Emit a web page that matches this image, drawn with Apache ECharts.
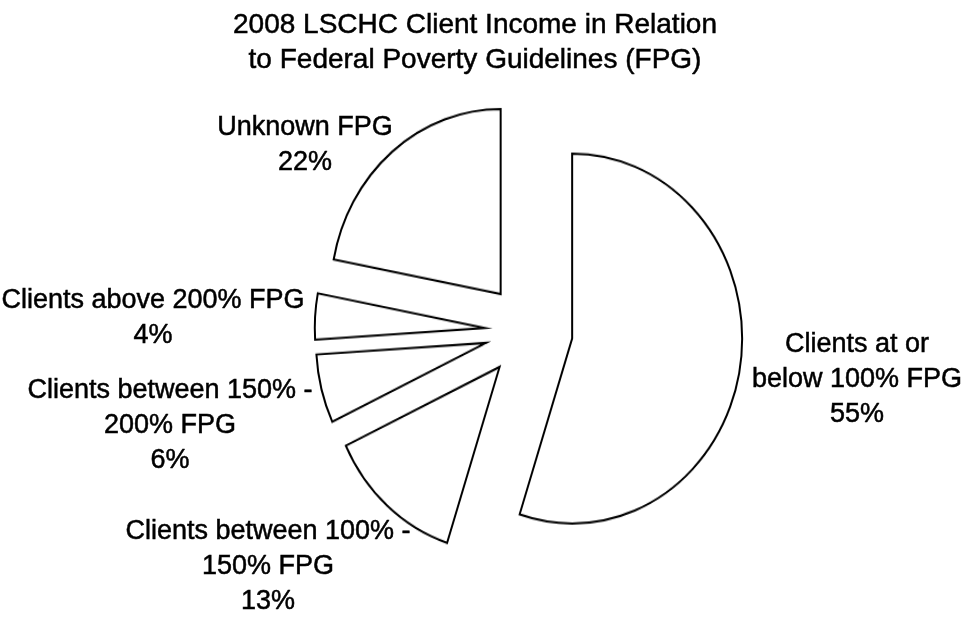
<!DOCTYPE html>
<html>
<head>
<meta charset="utf-8">
<script src="https://cdn.jsdelivr.net/npm/echarts@6/dist/echarts.min.js"></script>
<style>
  html, body { margin: 0; padding: 0; background: #ffffff; }
  #wrap { position: relative; width: 963px; height: 617px; overflow: hidden; background: #ffffff; }
  #pieLayer { position: absolute; left: 0; top: 0; width: 963px; height: 617px;
              transform: scaleY(1.088); transform-origin: 0 331px; }
  #textLayer { position: absolute; left: 0; top: 0; width: 963px; height: 617px; }
</style>
</head>
<body>
<div id="wrap">
  <div id="pieLayer"></div>
  <div id="textLayer"></div>
</div>
<script>
// ---- data ----
const categories = [
  'Clients at or\nbelow 100% FPG',
  'Clients between 100% -\n150% FPG',
  'Clients between 150% -\n200% FPG',
  'Clients above 200% FPG',
  'Unknown FPG'
];
const values = [55, 13, 6, 4, 22];
const titleLines = ['2008 LSCHC Client Income in Relation', 'to Federal Poverty Guidelines (FPG)'];

// ---- layout / style (not data) ----
const FONT = "'Liberation Sans', Arial, sans-serif";
const CENTER = [528.7, 331];
const RADIUS = 170;
// label centres (pixel), same order as categories
const labelPos = [[857, 380], [268, 567], [170, 426], [153, 318], [305, 145]];

const pieData = categories.map((c, i) => ({ name: c, value: values[i], selected: true }));
const labelData = categories.map((c, i) => ({ name: c, value: values[i] }));

const pieChart = echarts.init(document.getElementById('pieLayer'), null, { renderer: 'canvas' });
pieChart.setOption({
  animation: false,
  series: [{
    type: 'pie',
    center: CENTER,
    radius: RADIUS,
    startAngle: 90,
    clockwise: true,
    selectedMode: 'multiple',
    selectedOffset: 44,
    avoidLabelOverlap: false,
    silent: true,
    label: { show: false },
    labelLine: { show: false },
    emphasis: { disabled: true },
    itemStyle: { color: '#ffffff', borderColor: '#000000', borderWidth: 2, borderJoin: 'miter' },
    select: { itemStyle: { color: '#ffffff', borderColor: '#000000', borderWidth: 2 } },
    data: pieData
  }]
});

const textChart = echarts.init(document.getElementById('textLayer'), null, { renderer: 'canvas' });
textChart.setOption({
  animation: false,
  title: {
    text: titleLines.join('\n'),
    left: 470,
    top: 3,
    textAlign: 'center',
    textStyle: { fontFamily: FONT, fontSize: 28, fontWeight: 'normal', color: '#000000', lineHeight: 35,
                 textBorderColor: '#000000', textBorderWidth: 0.5 }
  },
  series: [{
    type: 'pie',
    center: CENTER,
    radius: RADIUS,
    startAngle: 90,
    clockwise: true,
    silent: true,
    avoidLabelOverlap: false,
    itemStyle: { color: 'rgba(0,0,0,0)', borderWidth: 0 },
    emphasis: { disabled: true },
    labelLine: { show: false },
    label: {
      show: true,
      position: 'outside',
      formatter: '{b}\n{c}%',
      fontFamily: FONT,
      fontSize: 27,
      lineHeight: 35,
      color: '#000000',
      textBorderColor: '#000000',
      textBorderWidth: 0.5,
      align: 'center'
    },
    labelLayout: function (p) {
      const pos = labelPos[p.dataIndex];
      return { x: pos[0], y: pos[1], align: 'center', verticalAlign: 'middle' };
    },
    data: labelData
  }]
});
</script>
</body>
</html>
